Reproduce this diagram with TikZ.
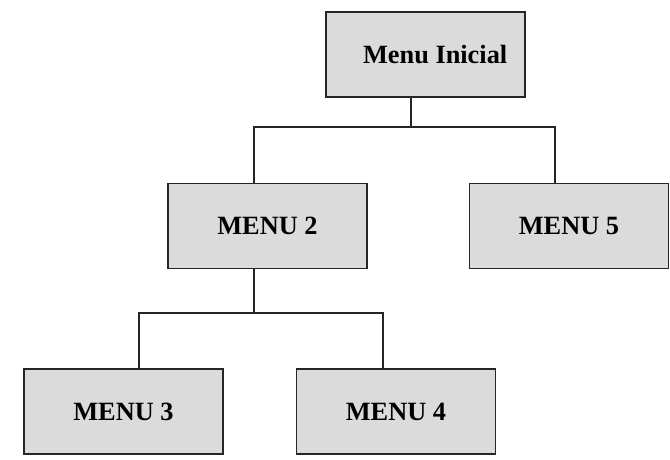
\documentclass[tikz,border=0pt]{standalone}
\usepackage{fontspec}
\setmainfont{Liberation Serif}
\begin{document}
\begin{tikzpicture}[x=0.02cm, y=-0.02cm,
  menubox/.style={draw=black!85, fill=black!14, line width=0.8pt,
    minimum width=3.98cm, minimum height=1.7cm,
    font=\fontsize{15}{18}\selectfont\bfseries},
  link/.style={draw=black!85, line width=0.8pt}]

\useasboundingbox (0,0) rectangle (670,460);

\def\yb{127}; % first bus
\def\yc{313}; % second bus

% boxes
\node[menubox] (ini) at (425.5, 54.5) {\hspace{11pt}Menu Inicial};
\node[menubox] (m2) at (267.5, 226) {MENU 2};
\node[menubox] (m5) at (569, 226) {MENU 5};
\node[menubox] (m3) at (123.5, 411.5) {MENU 3};
\node[menubox] (m4) at (396, 411.5) {MENU 4};

% bus points
\coordinate (b1m) at (411, \yb);
\coordinate (b1l) at (254, \yb);
\coordinate (b1r) at (555, \yb);
\coordinate (b2l) at (139, \yc);
\coordinate (b2r) at (383, \yc);

\draw[link] (b1m |- ini.south) -- (b1m);
\draw[link] (b1l |- m2.north) -- (b1l) -- (b1r) -- (b1r |- m5.north);

\draw[link] (b1l |- m2.south) -- (b1l |- b2l);
\draw[link] (b2l |- m3.north) -- (b2l) -- (b2r) -- (b2r |- m4.north);

\end{tikzpicture}
\end{document}
